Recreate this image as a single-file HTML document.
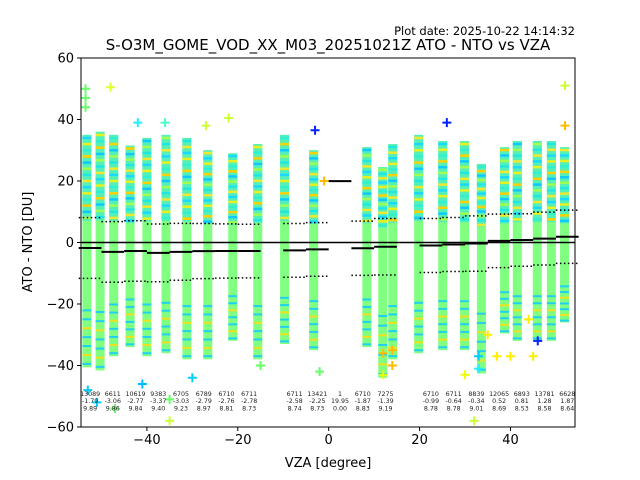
<!DOCTYPE html>
<html><head><meta charset="utf-8"><style>
body{margin:0;background:#fff;font-family:"DejaVu Sans","Liberation Sans",sans-serif}
svg{display:block}
</style></head><body>
<svg id="chart" width="640" height="480" xmlns="http://www.w3.org/2000/svg">
<text x="575" y="35" text-anchor="end" font-size="11.5" font-family="DejaVu Sans, sans-serif">Plot date: 2025-10-22 14:14:32</text>
<text x="328" y="50" text-anchor="middle" font-size="15" font-family="DejaVu Sans, sans-serif">S-O3M_GOME_VOD_XX_M03_20251021Z ATO - NTO vs VZA</text>
<g id="plot"></g>
<text x="328" y="467" text-anchor="middle" font-size="13" font-family="DejaVu Sans, sans-serif">VZA [degree]</text>
<text transform="translate(32,242) rotate(-90)" text-anchor="middle" font-size="13" font-family="DejaVu Sans, sans-serif">ATO - NTO [DU]</text>
</svg>
<script>
const colX=[-53.2,-50.3,-47.3,-43.7,-40,-35.8,-31.2,-26.6,-21.1,-15.6,-9.7,-3.3,8.4,11.9,14.1,19.8,25.1,29.9,33.6,38.7,41.5,45.9,49,51.9];
const colTop=[35,36,35,31.5,34,35,34,30,29,32,35,30,31,24.5,32,35,33,33,25.5,31,33,33,33,31];
const colBot=[-40.6,-41.6,-37,-34,-37,-36,-38,-38,-32,-38,-33,-35,-34,-44,-38,-36,-35,-35,-42.6,-29.6,-32,-32,-32,-26];
const binCenters=[-52.5,-47.5,-42.5,-37.5,-32.5,-27.5,-22.5,-17.5,-7.5,-2.5,2.5,7.5,12.5,22.5,27.5,32.5,37.5,42.5,47.5,52.5];
const binCounts=[13089,6611,10619,9383,6705,6789,6710,6711,6711,13421,1,6710,7275,6710,6711,8839,12065,6893,13781,6628];
const binMeans=[-1.79,-3.06,-2.77,-3.37,-3.03,-2.79,-2.76,-2.78,-2.58,-2.25,19.95,-1.87,-1.39,-0.99,-0.64,-0.34,0.52,0.81,1.28,1.87];
const binStds=[9.89,9.86,9.84,9.40,9.23,8.97,8.81,8.73,8.74,8.73,0.00,8.83,9.19,8.78,8.78,9.01,8.69,8.53,8.58,8.64];
const outX=[-53.5,-53.5,-53.5,-48,-42,-36,-27,-22,-3,-1,-53,-51,-47,-41,-35,-35,-30,-15,-2,12,14,26,32,33,35,37,45,52,52,12,14,30,33,46,44,40];
const outY=[50,47,44,50.5,39,39,38,40.5,36.5,20,-48,-52,-54,-46,-51,-58,-44,-40,-42,-43,-40,39,-58,-37,-30,-37,-37,51,38,-36,-35,-43,-41,-32,-25,-37];
const outC=["#6f6","#6f6","#6f6","#df3","#2ef","#4fc","#cf3","#cf3","#02f","#fb0","#0cf","#0cf","#6f6","#0bf","#6f6","#cf3","#0cf","#6f6","#6f6","#ef0","#fb0","#02f","#cf3","#0cf","#fe0","#fe0","#fe0","#cf3","#fb0","#fb0","#fb0","#ef0","#2ef","#02f","#fe0","#fe0"];
const xTicks=[-40,-20,0,20,40];
const yTicks=[-60,-40,-20,0,20,40,60];

const L=81,R=575,T=58,B=427,xmin=-54.5,xmax=54.2,ymin=-60,ymax=60;
const sx=v=>L+(v-xmin)/(xmax-xmin)*(R-L);
const sy=v=>B-(v-ymin)/(ymax-ymin)*(B-T);
const NS="http://www.w3.org/2000/svg";
const g=document.getElementById('plot');
function mk(t,a,p){const e=document.createElementNS(NS,t);for(const k in a)e.setAttribute(k,a[k]);(p||g).appendChild(e);return e;}
const clip=mk('clipPath',{id:'cp'});mk('rect',{x:L,y:T,width:R-L,height:B-T},clip);
const data=mk('g',{'clip-path':'url(#cp)'});


const upCols=['#1ad8ff','#e8f020','#30f0d0','#ffd000','#10c8ff','#a0ff50','#20e8e0','#f0e830'];
colX.forEach((x,i)=>{
  const cx=sx(x),t=sy(colTop[i]),b=sy(colBot[i]);
  const r=mk('rect',{x:cx-4.5,y:t,width:9,height:b-t,fill:'#80ff80'},data);
  
  
  const mid=sy(colTop[i]*0.2);
  const u=mk('rect',{x:cx-4.5,y:t,width:9,height:mid-t,fill:'#55f0b8'},data);
  
  
  const n=14;
  for(let k=0;k<n;k++){
    const yy=t+(mid-t)*(k+0.3)/n;
    mk('rect',{x:cx-4.5,y:yy,width:9,height:2.5,fill:upCols[(k+i)%upCols.length]},data);
  }
  const lb=sy(colBot[i]*0.5);
  for(let k=0;k<7;k++){
    const yy=lb+(b-lb)*(k+0.5)/7;
    mk('rect',{x:cx-4.5,y:yy,width:9,height:2,fill:k%3==2?'#f0e020':'#20d0f0'},data);
  }
});
outX.forEach((x,i)=>{
  const cx=sx(x),cy=sy(outY[i]);
  const p=mk('path',{d:`M${cx-4.5},${cy}H${cx+4.5}M${cx},${cy-4.5}V${cy+4.5}`,stroke:outC[i],'stroke-width':2,fill:'none'},data);
  
  
});
const z=mk('line',{x1:L,x2:R,y1:sy(0),y2:sy(0),stroke:'#000','stroke-width':1.5});


binCenters.forEach((c,i)=>{
  const x1=sx(c-2.5),x2=sx(c+2.5);
  const m=mk('line',{x1,x2,y1:sy(binMeans[i]),y2:sy(binMeans[i]),stroke:'#000','stroke-width':2});
  
  
  if(binStds[i]>0){[1,-1].forEach(s=>{
    const d=mk('line',{x1,x2,y1:sy(binMeans[i]+s*binStds[i]),y2:sy(binMeans[i]+s*binStds[i]),stroke:'#000','stroke-width':1.5,'stroke-dasharray':'1.5,2.5'});
    
    
  });}
  const tx=mk('text',{x:sx(c),y:396,'text-anchor':'middle','font-size':6.3,fill:'#222'});
  
  
  [binCounts[i],binMeans[i].toFixed(2),binStds[i].toFixed(2)].forEach((s,j)=>{const ts=mk('tspan',{x:sx(c),dy:j?7.2:0},tx);ts.textContent=s;});
});
mk('rect',{x:L,y:T,width:R-L,height:B-T,fill:'none',stroke:'#000','stroke-width':1});
xTicks.forEach(v=>{
  mk('line',{x1:sx(v),x2:sx(v),y1:B,y2:B+4,stroke:'#000'});
  const t=mk('text',{x:sx(v),y:B+17,'text-anchor':'middle','font-size':13});t.textContent=v<0?'\u2212'+(-v):v;
  
  
});
yTicks.forEach(v=>{
  mk('line',{x1:L-4,x2:L,y1:sy(v),y2:sy(v),stroke:'#000'});
  const t=mk('text',{x:L-7,y:sy(v)+4.5,'text-anchor':'end','font-size':13});t.textContent=v<0?'\u2212'+(-v):v;
  
  
});
</script>
</body></html>
